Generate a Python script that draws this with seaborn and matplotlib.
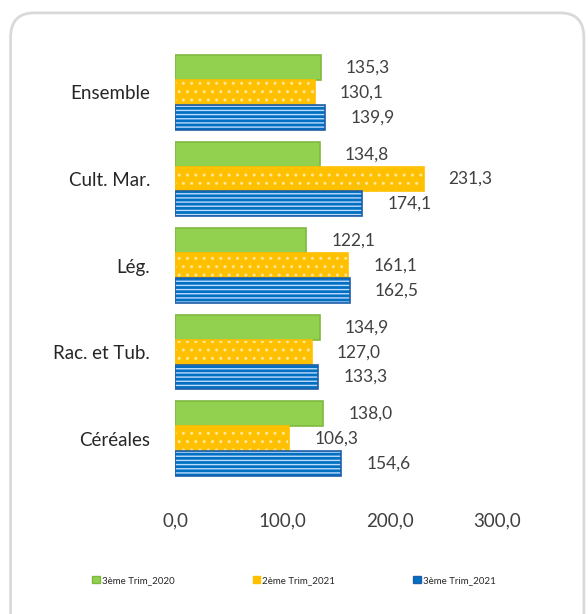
import pandas as pd
import matplotlib.pyplot as plt
import seaborn as sns
from matplotlib.patches import FancyBboxPatch

categories = ['Ensemble', 'Cult. Mar.', 'Lég.', 'Rac. et Tub.', 'Céréales']
series = ['3ème Trim_2020', '2ème Trim_2021', '3ème Trim_2021']
t3_2020 = [135.3, 134.8, 122.1, 134.9, 138.0]
t2_2021 = [130.1, 231.3, 161.1, 127.0, 106.3]
t3_2021 = [139.9, 174.1, 162.5, 133.3, 154.6]
xticks = [0, 100, 200, 300]
colors = ['#92D050', '#FFC000', '#0070C0']

df = pd.DataFrame({
    'cat': categories * 3,
    'serie': [series[0]] * 5 + [series[1]] * 5 + [series[2]] * 5,
    'val': t3_2020 + t2_2021 + t3_2021,
})

sns.set_style('white')
plt.rcParams['font.family'] = ['Lato', 'DejaVu Sans']

fig = plt.figure(figsize=(5.88, 6.14), dpi=100)
# cadre arrondi gris
box = FancyBboxPatch((0.018, -0.05), 0.975, 1.029, transform=fig.transFigure,
                     boxstyle='round,pad=0,rounding_size=0.04',
                     facecolor='none', edgecolor='#d9d9d9', linewidth=2, zorder=5)
fig.patches.append(box)

ax = fig.add_axes([0.298, 0.215, 0.548, 0.705])
sns.barplot(data=df, y='cat', x='val', hue='serie', order=categories,
            hue_order=series, palette=colors, orient='h', width=0.86,
            saturation=1, ax=ax, legend=False)

hatches = [None, '..', '----']
edges = ['#7fb83f', '#FFC000', '#1f5fa8']
hatch_cols = [None, (1.0, 0.9, 0.6, 1.0), (0.75, 0.85, 1.0, 1.0)]
for i, cont in enumerate(ax.containers):
    for b in cont:
        b.set_edgecolor(edges[i])
        b.set_linewidth(1.2)
        if hatches[i]:
            b.set_hatch(hatches[i])
            b._hatch_color = hatch_cols[i]
    labels = [f'{v:.1f}'.replace('.', ',') for v in cont.datavalues]
    ax.bar_label(cont, labels=labels, padding=18, fontsize=12.5, color='#404040')

ax.set_xlim(0, 300)
ax.set_xticks(xticks)
ax.set_xticklabels([f'{v:.1f}'.replace('.', ',') for v in xticks], fontsize=13.5, color='#404040')
ax.tick_params(axis='y', labelsize=13.5, labelcolor='#262626', pad=18, length=0)
ax.tick_params(axis='x', pad=22, length=0)
ax.set_xlabel('')
ax.set_ylabel('')
for s in ax.spines.values():
    s.set_visible(False)

handles = [plt.Rectangle((0, 0), 1, 1, facecolor=c, edgecolor=e) for c, e in zip(colors, edges)]
fig.legend(handles, series, loc='center', bbox_to_anchor=(0.5, 0.055), ncol=3,
           frameon=False, fontsize=7, handlelength=0.8, handleheight=0.8,
           handletextpad=0.2, columnspacing=8)

fig.savefig('out.png', dpi=100)
